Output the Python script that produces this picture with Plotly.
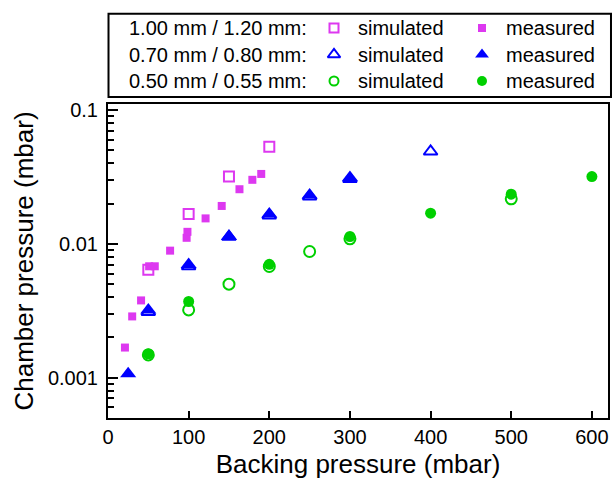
import plotly.graph_objects as go
import math

# ---------------- data ----------------
mag_sim_x = [50, 100, 150, 200]
mag_sim_y = [0.0064, 0.0167, 0.0318, 0.0532]
mag_meas_x = [21, 30, 41, 51, 58, 77, 97.5, 98.5, 121, 141, 163, 179, 190]
mag_meas_y = [0.00168, 0.00287, 0.00378, 0.0068, 0.0068, 0.0089, 0.0111, 0.0123,
              0.0155, 0.0192, 0.0256, 0.0301, 0.0333]

blu_sim_x = [50, 100, 150, 200, 250, 300, 400]
blu_sim_y = [0.0031, 0.0068, 0.0113, 0.0163, 0.0226, 0.0305, 0.049]
blu_meas_x = [25, 50, 100, 150, 200, 250, 300]
blu_meas_y = [0.00107, 0.00321, 0.0070, 0.01135, 0.01675, 0.0232, 0.0313]

grn_sim_x = [50, 100, 150, 200, 250, 300, 500]
grn_sim_y = [0.00148, 0.00321, 0.0050, 0.00678, 0.00877, 0.0109, 0.0217]
grn_meas_x = [50, 100, 200, 300, 400, 500, 600]
grn_meas_y = [0.00151, 0.00371, 0.00703, 0.01135, 0.01695, 0.0235, 0.0318]

legend_rows = ["1.00 mm / 1.20 mm:", "0.70 mm / 0.80 mm:", "0.50 mm / 0.55 mm:"]
x_ticks = [0, 100, 200, 300, 400, 500, 600]
y_ticks = [0.001, 0.01, 0.1]
y_ticktext = ["0.001", "0.01", "0.1"]

MAG = "#DD38F0"
BLU = "#0000FF"
GRN = "#00D000"
FONT = "Liberation Sans, Arial, sans-serif"

fig = go.Figure()

# simulated (open, white-filled) drawn first
for x, y, sym, col, sz in [
    (mag_sim_x, mag_sim_y, "square", MAG, 10),
    (blu_sim_x, blu_sim_y, "triangle-up", BLU, 12),
    (grn_sim_x, grn_sim_y, "circle", GRN, 11),
]:
    fig.add_trace(go.Scatter(x=x, y=y, mode="markers", showlegend=False,
                             marker=dict(symbol=sym, size=sz, color="white",
                                         line=dict(color=col, width=2))))

# measured (filled)
for x, y, sym, col, sz in [
    (mag_meas_x, mag_meas_y, "square", MAG, 8),
    (blu_meas_x, blu_meas_y, "triangle-up", BLU, 14),
    (grn_meas_x, grn_meas_y, "circle", GRN, 11),
]:
    fig.add_trace(go.Scatter(x=x, y=y, mode="markers", showlegend=False,
                             marker=dict(symbol=sym, size=sz, color=col,
                                         line=dict(width=0))))

# ---------------- custom legend (pixel-like coords on hidden axes) ----------------
row_y = [28, 54.5, 81]
leg_sim = [("square", MAG, 9), ("triangle-up", BLU, 11), ("circle", GRN, 9)]
leg_meas = [("square", MAG, 8), ("triangle-up", BLU, 12), ("circle", GRN, 10)]
for i, (label, yy) in enumerate(zip(legend_rows, row_y)):
    s_sym, s_col, s_sz = leg_sim[i]
    m_sym, m_col, m_sz = leg_meas[i]
    fig.add_trace(go.Scatter(x=[334], y=[yy], xaxis="x2", yaxis="y2", mode="markers",
                             showlegend=False, hoverinfo="skip",
                             marker=dict(symbol=s_sym, size=s_sz, color="white",
                                         line=dict(color=s_col, width=2))))
    fig.add_trace(go.Scatter(x=[482], y=[yy], xaxis="x2", yaxis="y2", mode="markers",
                             showlegend=False, hoverinfo="skip",
                             marker=dict(symbol=m_sym, size=m_sz, color=m_col,
                                         line=dict(width=0))))
    fig.add_annotation(x=309, y=yy, xref="x2", yref="y2", text=label, showarrow=False,
                       xanchor="right", yanchor="middle",
                       font=dict(family=FONT, size=20, color="black"))
    fig.add_annotation(x=356, y=yy, xref="x2", yref="y2", text="simulated", showarrow=False,
                       xanchor="left", yanchor="middle",
                       font=dict(family=FONT, size=20, color="black"))
    fig.add_annotation(x=504, y=yy, xref="x2", yref="y2", text="measured", showarrow=False,
                       xanchor="left", yanchor="middle",
                       font=dict(family=FONT, size=20, color="black"))

# legend border box
fig.add_shape(type="rect", xref="paper", yref="paper", x0=0.001, x1=0.998,
              y0=0.7926, y1=0.998, line=dict(color="black", width=2))

minor_vals = [k * 10.0 ** e for e in (-4, -3, -2) for k in range(1, 10)]
minor_vals = [v for v in minor_vals if 0.0005 <= v <= 0.11 and v not in y_ticks]

fig.update_layout(
    width=613, height=481,
    margin=dict(l=108, r=1, t=13, b=63),
    paper_bgcolor="white", plot_bgcolor="white",
    font=dict(family=FONT, size=20, color="black"),
    xaxis=dict(domain=[0, 0.9921], range=[0, 620], tickvals=x_ticks,
               ticks="inside", ticklen=7, tickwidth=2, tickcolor="black",
               showline=True, linewidth=2, linecolor="black", mirror=True,
               showgrid=False, zeroline=False, ticklabelstandoff=0,
               tickfont=dict(family=FONT, size=20),
               title=dict(text="Backing pressure (mbar)", font=dict(family=FONT, size=26),
                          standoff=8)),
    yaxis=dict(domain=[0, 0.7753], type="log",
               range=[math.log10(0.0005), -0.955],
               tickvals=y_ticks, ticktext=y_ticktext,
               ticks="inside", ticklen=10, tickwidth=2, tickcolor="black",
               minor=dict(tickvals=minor_vals, ticks="inside", ticklen=6,
                          tickwidth=2, tickcolor="black", showgrid=False),
               showline=True, linewidth=2, linecolor="black", mirror=True,
               showgrid=False, zeroline=False, ticklabelstandoff=4,
               tickfont=dict(family=FONT, size=20),
               title=dict(text="Chamber pressure (mbar)", font=dict(family=FONT, size=26),
                          standoff=7)),
    xaxis2=dict(domain=[0, 1], range=[108, 612], anchor="y2", visible=False, fixedrange=True),
    yaxis2=dict(domain=[0.7926, 1], range=[97, 13], anchor="x2", visible=False, fixedrange=True),
)

fig.write_html("out.html")
